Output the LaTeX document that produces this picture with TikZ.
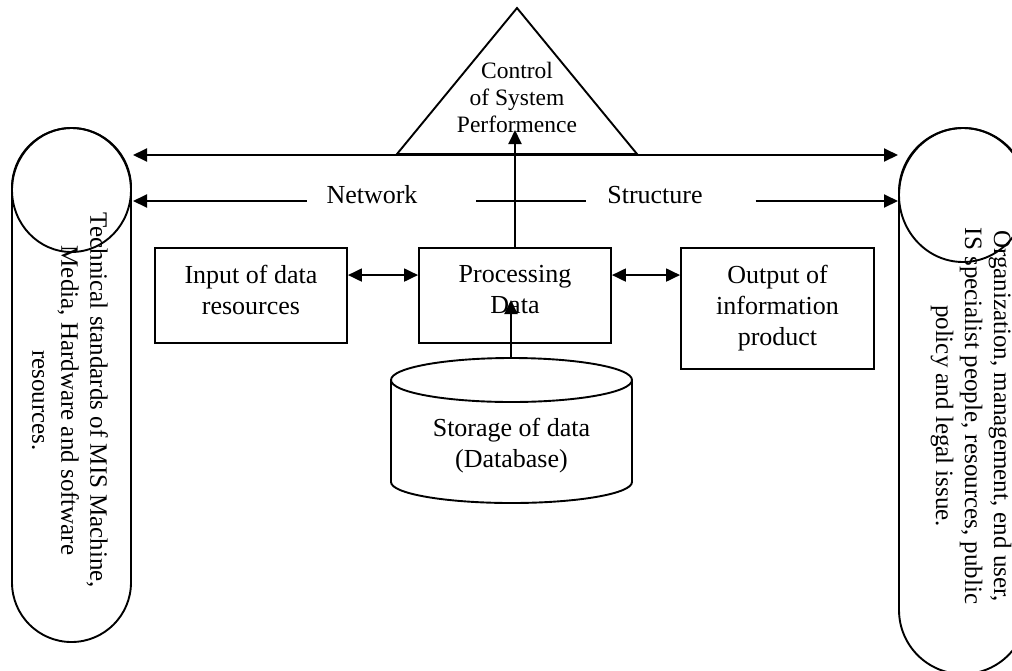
\documentclass[tikz,border=0pt]{standalone}
\usepackage{fontspec}
\setmainfont{Liberation Serif}
\usetikzlibrary{calc,arrows.meta}

\tikzset{
  box/.style={draw, align=center, font=\fontsize{26}{31}\selectfont,
    minimum width=192pt, minimum height=95pt, inner sep=0pt, text depth=12pt},
  sidebox/.style={draw, rounded corners=#1, inner sep=0pt},
  sidetext/.style={rotate=-90, anchor=west, align=center, inner sep=0pt,
    font=\fontsize{25}{29}\selectfont},
  rowtext/.style={inner sep=0pt, font=\fontsize{26}{31}\selectfont},
  ctrltext/.style={align=center, inner sep=0pt, font=\fontsize{23.5}{27}\selectfont}
}

\begin{document}
\begin{tikzpicture}[x=1pt, y=-1pt, line width=1.9pt,
    >={Triangle[length=14pt,width=13pt]}]
    \clip (0,0) rectangle (1012,670);

    \node[sidebox=59.5pt, minimum width=119pt, minimum height=514pt] (tech) at (71.5,385) {};
    \draw (71.5,190) ellipse [x radius=59.5pt, y radius=62pt];
    \node[sidetext] (techtxt) at (70,212)
      {Technical standards of MIS Machine,\\Media, Hardware and software\\resources.};

    \node[sidebox=64pt, minimum width=128pt, minimum height=546pt] (org) at (963,401) {};
    \draw (963,195) ellipse [x radius=64pt, y radius=67pt];
    \node[sidetext] (orgtxt) at (971,227)
      {Organization, management, end user,\\IS specialist people, resources, public\\policy and legal issue.};

    \draw (397,154) -- (517,8) -- (637,154) -- cycle;
    \node[ctrltext] (ctrl) at (517,97.5) {Control\\of System\\Performence};

    \node[box] (inp) at (251,295.5) {Input of data\\resources};
    \node[box] (proc) at (515,295.5) {Processing\\Data};
    \node[box, minimum width=193pt, minimum height=121pt, text depth=6pt] (out) at (777.5,308.5)
      {Output of\\information\\product};

    \draw (511.5,380) ellipse [x radius=120.5pt, y radius=22pt];
    \draw (391,380) -- (391,482) arc [start angle=180, end angle=360,
      x radius=120.5pt, y radius=21pt] -- (632,380);
    \node[box, draw=none, minimum width=0pt, minimum height=0pt, text depth=6pt] (db) at (511.5,446)
      {Storage of data\\(Database)};

    \node[rowtext] (net) at (372,195) {Network};
    \node[rowtext] (struct) at (655,195) {Structure};

    \coordinate (w1) at (133,155);
    \coordinate (e1) at (898,155);
    \coordinate (w2) at (133,201);
    \coordinate (e2) at (898,201);
    \coordinate (dbtop) at (511,358);
    \coordinate (proctip) at (511,300);
    \coordinate (ctrltip) at (515,130);

    \draw[<->] (w1) -- (e1);
    \draw[<-] (w2) -- ($(net.west)+(-19,6)$);
    \draw ($(net.east)+(58,6)$) -- ($(struct.west)+(-20,6)$);
    \draw[->] ($(struct.east)+(52,6)$) -- (e2);

    \draw[<->] ($(inp.north east)+(0,28)$) -- ($(proc.north west)+(0,28)$);
    \draw[<->] ($(proc.north east)+(0,28)$) -- ($(out.north west)+(0,28)$);
    \draw[->] (proc.north) -- (ctrltip);
    \draw[->] (dbtop) -- (proctip);
\end{tikzpicture}
\end{document}
